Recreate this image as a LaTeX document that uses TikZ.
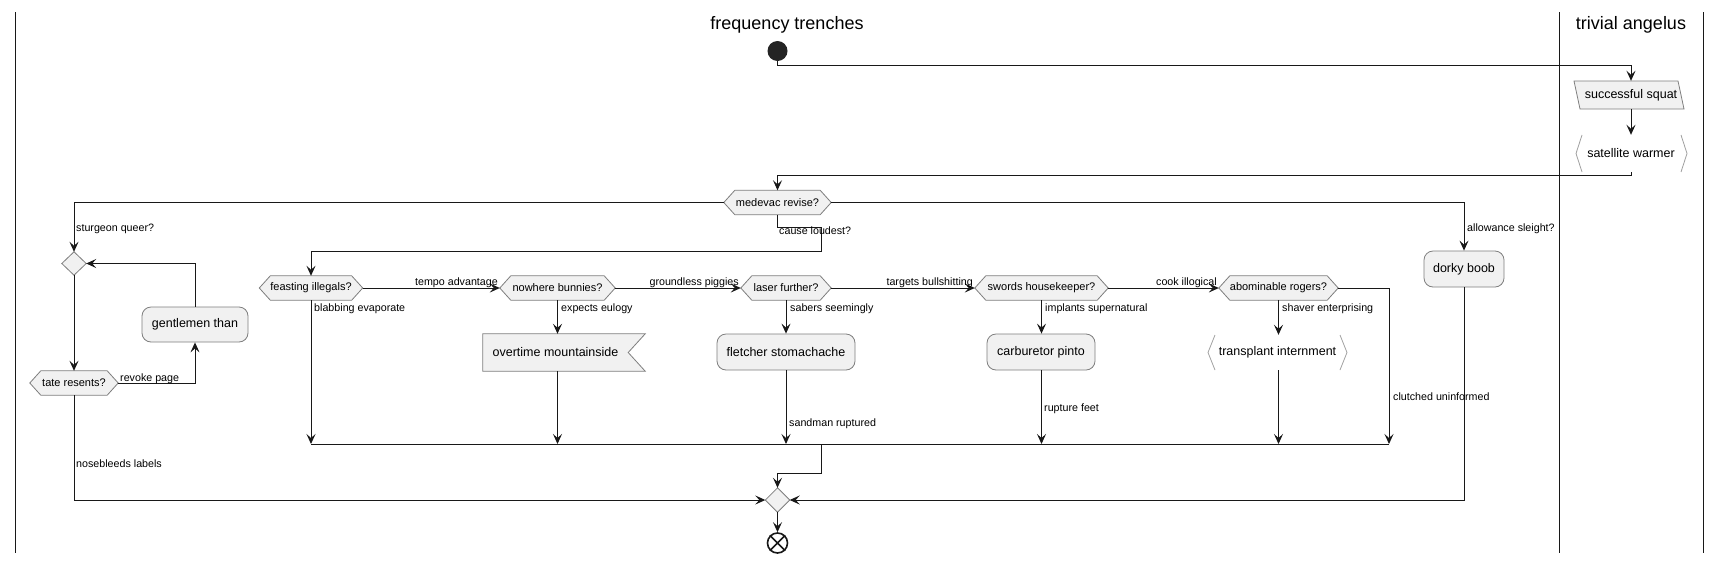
\documentclass[tikz,border=0pt]{standalone}
\usepackage{fontspec}
\setmainfont{Liberation Sans}
\usetikzlibrary{arrows.meta,calc}
\pgfdeclarelayer{bg}
\pgfdeclarelayer{paper}
\pgfsetlayers{paper,bg,main}
\definecolor{nfill}{HTML}{F1F1F1}
\definecolor{nborder}{HTML}{7E7E7E}
\definecolor{lcol}{HTML}{181818}
\definecolor{brk}{HTML}{A0A0A0}
\newcommand{\hexbg}[1]{\begin{pgfonlayer}{bg}\path[nodebg] (#1.west) -- ([xshift=11pt]#1.north west) -- ([xshift=-11pt]#1.north east) -- (#1.east) -- ([xshift=-11pt]#1.south east) -- ([xshift=11pt]#1.south west) -- cycle;\end{pgfonlayer}}
\newcommand{\diabg}[1]{\begin{pgfonlayer}{bg}\path[nodebg] (#1.north) -- (#1.east) -- (#1.south) -- (#1.west) -- cycle;\end{pgfonlayer}}
\tikzset{
  nodebg/.style={fill=nfill, draw=nborder, line width=0.8pt},
  plain/.style={inner sep=0pt, font=\fontsize{12.5}{15}\selectfont},
  act/.style={plain, rounded corners=9pt, fill=nfill, draw=nborder, line width=0.8pt, minimum height=36pt},
  hex/.style={inner sep=0pt, minimum height=24pt, font=\fontsize{11}{13}\selectfont},
  lbl/.style={inner sep=0pt, font=\fontsize{10.7}{12}\selectfont},
  lanetitle/.style={inner sep=0pt, font=\fontsize{18}{21}\selectfont},
  ln/.style={draw=lcol, line width=1pt},
  flow/.style={draw=lcol, line width=1pt, -{Stealth[length=10pt,width=9pt,inset=4pt]}},
  bracket/.style={draw=brk, line width=0.8pt},
  lane/.style={draw=lcol, line width=1pt},
}
\begin{document}
\begin{tikzpicture}[x=1pt,y=-1pt]
\useasboundingbox (0,0) rectangle (1722,563);
\begin{pgfonlayer}{paper}
\fill[white] (0,0) rectangle (1722,563);
\end{pgfonlayer}

% lanes
\draw[lane] (15,12) -- (15,553);
\draw[lane] (1559,12) -- (1559,553);
\draw[lane] (1703,12) -- (1703,553);
\node[lanetitle] (t1) at (787,25) {frequency trenches};
\node[lanetitle] (t2) at (1631,25) {trivial angelus};

% start
\node[circle, fill=lcol!95, minimum size=20pt, inner sep=0pt] (start) at (777.5,51) {};

% successful squat (parallelogram)
\node[plain, minimum width=104pt, minimum height=28pt] (squat) at (1631,95) {successful squat};
\begin{pgfonlayer}{bg}
\path[nodebg] ($(squat.center)+(-57,-14)$) -- ($(squat.center)+(47,-14)$) -- ($(squat.center)+(53,14)$) -- ($(squat.center)+(-51,14)$) -- cycle;
\end{pgfonlayer}

% satellite warmer
\node[plain, minimum width=100pt, minimum height=37pt] (sat) at (1631,153.5) {satellite warmer};
\draw[bracket] ($(sat.center)+(-49,-18.5)$) -- ($(sat.center)+(-55,0)$) -- ($(sat.center)+(-49,18.5)$);
\draw[bracket] ($(sat.center)+(50,-18.5)$) -- ($(sat.center)+(56,0)$) -- ($(sat.center)+(50,18.5)$);

% medevac
\node[hex, minimum width=107pt] (med) at (777.5,202.5) {medevac revise?};
\hexbg{med}

% left loop
\node[plain, minimum width=24pt, minimum height=23pt] (d1) at (74,263.5) {};
\diabg{d1}
\node[hex, minimum width=88pt] (tate) at (74,383) {tate resents?};
\hexbg{tate}
\node[act, minimum width=106pt, minimum height=35pt] (gent) at (195,324.5) {gentlemen than};

% if chain
\node[hex, minimum width=103pt] (feast) at (311,288) {feasting illegals?};
\hexbg{feast}
\node[hex, minimum width=115pt] (nowhere) at (557.5,288) {nowhere bunnies?};
\hexbg{nowhere}
\node[hex, minimum width=90pt] (laser) at (786,288) {laser further?};
\hexbg{laser}
\node[hex, minimum width=133pt] (swords) at (1041.5,288) {swords housekeeper?};
\hexbg{swords}
\node[hex, minimum width=119pt] (abom) at (1278.5,288) {abominable rogers?};
\hexbg{abom}

% activities
\node[plain, minimum width=145pt, minimum height=37pt] (over) at (555.5,352.5) {overtime mountainside};
\begin{pgfonlayer}{bg}
\path[nodebg] (over.north west) -- ($(over.north east)+(17,0)$) -- (over.east) -- ($(over.south east)+(17,0)$) -- (over.south west) -- cycle;
\end{pgfonlayer}
\node[act, minimum width=138pt] (flet) at (786,352) {fletcher stomachache};
\node[act, minimum width=108pt] (carb) at (1041,352) {carburetor pinto};
\node[plain, minimum width=125pt, minimum height=35pt] (trans) at (1277.5,352.5) {transplant internment};
\draw[bracket] ($(trans.center)+(-62.5,-17.5)$) -- ($(trans.center)+(-69.5,0)$) -- ($(trans.center)+(-62.5,17.5)$);
\draw[bracket] ($(trans.center)+(62.5,-17.5)$) -- ($(trans.center)+(69.5,0)$) -- ($(trans.center)+(62.5,17.5)$);
\node[act, minimum width=80pt] (dorky) at (1464,269) {dorky boob};

% merge
\coordinate (mL) at (311,444);
\coordinate (mR) at (1389,444);
\coordinate (mO) at (821,444);
\draw[ln] (mL) -- (mR);
\node[plain, minimum width=24pt, minimum height=24pt] (d2) at (777.5,500) {};
\diabg{d2}
\node[circle, draw=lcol, fill=white, line width=1.6pt, minimum size=20pt, inner sep=0pt] (endc) at (777.5,543) {};
\draw[lcol, line width=1.6pt] (endc.north east) -- (endc.south west) (endc.north west) -- (endc.south east);

% connectors
\draw[flow] (start.south) -- ++(0,4) -| (squat.north);
\draw[flow] (squat.south) -- (sat.north);
\draw[flow] (sat.south) -- ++(0,3) -| (med.north);
\draw[flow] (med.west) -| (d1.north);
\draw[flow] (med.east) -| (dorky.north);
\coordinate (c1) at (821,227);
\coordinate (c2) at (821,251);
\draw[flow] (med.south) |- (c1) -- (c2) -| (feast.north);

\draw[flow] (d1.south) -- (tate.north);
\draw[flow] (tate.east) -| (gent.south);
\draw[flow] (gent.north) |- (d1.east);
\draw[flow] (tate.south) |- (d2.west);
\draw[flow] (dorky.south) |- (d2.east);

\draw[flow] (feast.east) -- (nowhere.west);
\draw[flow] (nowhere.east) -- (laser.west);
\draw[flow] (laser.east) -- (swords.west);
\draw[flow] (swords.east) -- (abom.west);

\draw[flow] (nowhere.south) -- (nowhere.south |- over.north);
\draw[flow] (laser.south) -- (flet.north);
\draw[flow] (swords.south) -- (swords.south |- carb.north);
\draw[flow] (abom.south) -- (abom.south |- trans.north);

\draw[flow] (feast.south) -- (mL);
\draw[flow] (nowhere.south |- over.south) -- (nowhere.south |- mL);
\draw[flow] (flet.south) -- (flet.south |- mL);
\draw[flow] (swords.south |- carb.south) -- (swords.south |- mL);
\draw[flow] (abom.south |- trans.south) -- (abom.south |- mL);
\draw[flow] (abom.east) -| (mR);
\draw[flow] (mO) -- ++(0,29) -| (d2.north);
\draw[flow] (d2.south) -- (endc.north);

% labels
\node[lbl, anchor=base west] (lsq) at (76,231) {sturgeon queer?};
\node[lbl, anchor=base west] (lcl) at (779,234) {cause loudest?};
\node[lbl, anchor=base west] (las) at (1467,231) {allowance sleight?};
\node[lbl, anchor=base east] (lta) at (498,285) {tempo advantage};
\node[lbl, anchor=base east] (lgp) at (739,285) {groundless piggies};
\node[lbl, anchor=base east] (ltb) at (973,285) {targets bullshitting};
\node[lbl, anchor=base east] (lci) at (1217,285) {cook illogical};
\node[lbl, anchor=base west] (lbe) at (314,311) {blabbing evaporate};
\node[lbl, anchor=base west] (lee) at (561,311) {expects eulogy};
\node[lbl, anchor=base west] (lss) at (790,311) {sabers seemingly};
\node[lbl, anchor=base west] (lis) at (1045,311) {implants supernatural};
\node[lbl, anchor=base west] (lse) at (1282,311) {shaver enterprising};
\node[lbl, anchor=base west] (lrp) at (120,381) {revoke page};
\node[lbl, anchor=base west] (lnl) at (76,467) {nosebleeds labels};
\node[lbl, anchor=base west] (lsr) at (789,426) {sandman ruptured};
\node[lbl, anchor=base west] (lrf) at (1044,411) {rupture feet};
\node[lbl, anchor=base west] (lcu) at (1393,400) {clutched uninformed};
\end{tikzpicture}
\end{document}
